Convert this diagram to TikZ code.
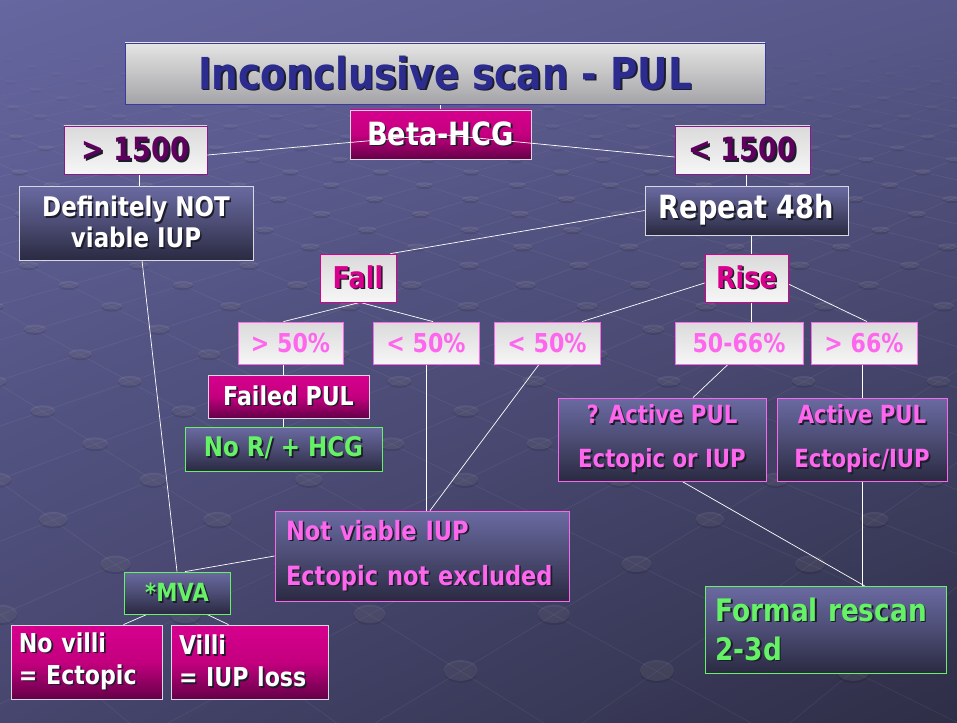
\documentclass[tikz,border=0pt]{standalone}
\usepackage{fontspec}
\setmainfont[FakeStretch=0.85]{DejaVu Sans}
\usetikzlibrary{calc,shadings}

\pgfdeclarelayer{bg}
\pgfdeclarelayer{lines}
\pgfsetlayers{bg,lines,main}

% palette
\definecolor{bgUL}{HTML}{6666A0}
\definecolor{bgUR}{HTML}{58588A}
\definecolor{bgLL}{HTML}{46466E}
\definecolor{bgLR}{HTML}{2E2E47}
\definecolor{ttlT}{HTML}{E4E4E4}
\definecolor{ttlB}{HTML}{A4A4A8}
\definecolor{ttlD}{HTML}{3A3AA0}
\definecolor{navy}{HTML}{2C2C8E}
\definecolor{lgT}{HTML}{DADADA}
\definecolor{lgB}{HTML}{F6F6F6}
\definecolor{plum}{HTML}{5E005E}
\definecolor{plumD}{HTML}{8A1A8A}
\definecolor{magT}{HTML}{D6008E}
\definecolor{magM}{HTML}{C4007F}
\definecolor{magB}{HTML}{640048}
\definecolor{magTxt}{HTML}{D8008C}
\definecolor{pink}{HTML}{FF66EE}
\definecolor{dkT}{HTML}{6A6AA2}
\definecolor{dkM}{HTML}{4C4C74}
\definecolor{dkB}{HTML}{2A2A42}
\definecolor{grn}{HTML}{66F266}
\definecolor{edge}{HTML}{D8D8E0}
\definecolor{shadowc}{HTML}{1C1C2A}

% text with a small drop shadow
\newcommand\sh[1]{\makebox[0pt][l]{\hspace{1.6pt}\raisebox{-1.6pt}{\textcolor{shadowc}{#1}}}#1}
\newcommand\fs[2]{\fontsize{#1}{#2}\selectfont}

\tikzset{
  box/.style={inner sep=0pt, line width=0.8pt, shading=axis, font=\bfseries},
  light/.style={box, top color=lgT, bottom color=lgB},
  mag/.style={box, top color=magT, bottom color=magB, middle color=magM, draw=edge, text=white},
  dark/.style={box, top color=dkT, bottom color=dkB, middle color=dkM},
  link/.style={draw=white, line width=0.7pt},
}

\begin{document}
\begin{tikzpicture}[x=1pt, y=-1pt]
\useasboundingbox (0,0) rectangle (957,722);

\begin{pgfonlayer}{bg}
\shade[upper left=bgUL, upper right=bgUR, lower left=bgLL, lower right=bgLR] (0,0) rectangle (957,722);
% faint floor grid seen in perspective, with bumps at the crossings
\begin{scope}
\clip (0,0) rectangle (957,722);
\foreach \m in {-20,...,30} {
  \foreach \n in {-20,...,30} {
    \pgfmathsetmacro\Z{0.7616+(\m+\n)*0.0531}
    \pgfmathsetmacro\X{0.0426+(\m-\n)*0.0531}
    \pgfmathtruncatemacro\ok{and(\Z>0.7,\Z<3.3)}
    \ifnum\ok=1
      \pgfmathsetmacro\sx{480+1506*\X/\Z}
      \pgfmathsetmacro\sy{-253+753/\Z}
      \pgfmathtruncatemacro\inx{and(\sx>-80,\sx<1040)}
      \ifnum\inx=1
        \pgfmathsetmacro\fade{max(0,min(1,(\sy-40)/140))}
        \pgfmathsetmacro\Zn{\Z+0.0531}
        \pgfmathsetmacro\ax{480+1506*(\X+0.0531)/\Zn}
        \pgfmathsetmacro\bx{480+1506*(\X-0.0531)/\Zn}
        \pgfmathsetmacro\ny{-253+753/\Zn}
        \pgfmathsetmacro\rx{13.8/\Z}
        \pgfmathsetmacro\ry{\rx*0.5/\Z}
        \draw[white, opacity=0.07*\fade, line width=0.6pt] (\ax,\ny) -- (\sx,\sy) -- (\bx,\ny);
        \fill[black, opacity=0.10*\fade] (\sx,\sy+1.2) ellipse [x radius=\rx pt, y radius=\ry pt];
        \fill[white, opacity=0.08*\fade] (\sx,\sy-0.8) ellipse [x radius=\rx pt, y radius=\ry pt];
      \fi
    \fi
  }
}
\end{scope}
\end{pgfonlayer}

% title and first split
\node[box, top color=ttlT, bottom color=ttlB, draw=ttlD, text=navy,
      minimum width=640pt, minimum height=61pt, font=\bfseries\fs{44}{50}] (title) at (445,73.5) {\sh{Inconclusive scan - PUL}};
\node[mag, minimum width=181pt, minimum height=49pt, font=\bfseries\fs{32}{36}] (beta) at (440.5,134.5) {\sh{Beta-HCG}};
\node[light, draw=plumD, text=plum, minimum width=143pt, minimum height=48pt, font=\bfseries\fs{32}{36}] (gt) at (135.5,150) {\sh{> 1500}};
\node[light, draw=plumD, text=plum, minimum width=135pt, minimum height=48pt, font=\bfseries\fs{32}{36}] (lt) at (742.5,150) {\sh{< 1500}};

\node[dark, draw=edge, text=white, minimum width=234pt, minimum height=74pt, align=center, font=\bfseries\fs{27}{31}] (defn) at (136,223) {\sh{Definitely NOT}\\\sh{viable IUP}};
\node[dark, draw=edge, text=white, minimum width=203pt, minimum height=49pt, font=\bfseries\fs{32}{36}] (rep) at (746.5,210.5) {\sh{Repeat 48h}};

\node[light, draw=magTxt, text=magTxt, minimum width=76pt, minimum height=48pt, font=\bfseries\fs{30}{34}] (fall) at (358,278) {\sh{Fall}};
\node[light, draw=magTxt, text=magTxt, minimum width=83pt, minimum height=48pt, font=\bfseries\fs{30}{34}] (rise) at (746.5,278) {\sh{Rise}};

% percentage bands
\tikzset{pct/.style={light, draw=pink, text=pink, minimum height=42pt, font=\bfseries\fs{26}{30}}}
\node[pct, minimum width=105pt] (p1) at (290.5,343) {> 50\%};
\node[pct, minimum width=106pt] (p2) at (426,343) {< 50\%};
\node[pct, minimum width=106pt] (p3) at (547,343) {< 50\%};
\node[pct, minimum width=128pt] (p4) at (739,343) {50-66\%};
\node[pct, minimum width=106pt] (p5) at (864,343) {> 66\%};

\node[mag, minimum width=161pt, minimum height=43pt, font=\bfseries\fs{26}{30}] (failed) at (288.5,396.5) {\sh{Failed PUL}};
\node[dark, draw=grn, text=grn, minimum width=197pt, minimum height=44pt, font=\bfseries\fs{27}{30}] (norx) at (283.5,449) {\sh{No R/ + HCG}};

\node[dark, draw=pink, text=pink, minimum width=208pt, minimum height=83pt, align=center, font=\bfseries\fs{25}{44}] (qact) at (662,439.5) {\sh{? Active PUL}\\\sh{Ectopic or IUP}};
\node[dark, draw=pink, text=pink, minimum width=170pt, minimum height=83pt, align=center, font=\bfseries\fs{25}{44}] (act) at (862,439.5) {\sh{Active PUL}\\\sh{Ectopic/IUP}};

\node[dark, draw=pink, text=pink, minimum width=294pt, minimum height=90pt, text width=272pt, align=left, font=\bfseries\fs{26.5}{45}] (notv) at (422,556) {\sh{Not viable IUP}\\\sh{Ectopic not excluded}};

\node[dark, draw=grn, text=grn, minimum width=106pt, minimum height=42pt, font=\bfseries\fs{25}{30}] (mva) at (177,593) {\sh{*MVA}};
\node[mag, minimum width=151pt, minimum height=74pt, text width=135pt, align=left, font=\bfseries\fs{26}{32}] (novilli) at (86.5,662) {\sh{No villi}\\\sh{= Ectopic}};
\node[mag, minimum width=157pt, minimum height=74pt, text width=141pt, align=left, font=\bfseries\fs{26}{32}] (villi) at (249.5,662) {\sh{Villi}\\\sh{= IUP loss}};

\node[dark, draw=grn, text=grn, minimum width=241pt, minimum height=87pt, text width=221pt, align=left, font=\bfseries\fs{31}{39}] (formal) at (826,630) {\sh{Formal rescan}\\\sh{2-3d}};

% connectors behind the boxes
\begin{pgfonlayer}{lines}
\draw[link] (beta.north |- title.south) -- (beta.north);
\draw[link] ([xshift=4pt]gt.south) -- ([xshift=4pt]gt.south |- defn.north);
\draw[link] (rep.north |- lt.south) -- (rep.north);
\draw[link] (rep.west) -- ([xshift=-6pt]fall.north east);
\draw[link] ([xshift=4.5pt]rep.south) -- ([xshift=4.5pt]rep.south |- rise.north);
\draw[link] ([xshift=2pt]fall.south) -- ([xshift=-7pt]p1.north);
\draw[link] ([xshift=2pt]fall.south) -- ([xshift=7pt]p2.north);
\draw[link] ([yshift=-5pt]rise.west) -- ([xshift=35pt]p3.north);
\draw[link] ([xshift=4.5pt]rise.south) -- ([xshift=4.5pt]rise.south |- p4.north);
\draw[link] ([yshift=-6pt]rise.east) -- ([xshift=3pt]p5.north);
\draw[link] ([xshift=-7pt]p1.south) -- ([xshift=-7pt]p1.south |- failed.north);
\draw[link] (norx.north |- failed.south) -- (norx.north);
\draw[link] (p2.south) -- (p2.south |- notv.north);
\draw[link] ([xshift=-8pt]p3.south) -- ([xshift=8pt]notv.north);
\draw[link] ([xshift=-11pt]p4.south) -- ([xshift=31pt]qact.north);
\draw[link] (act.north |- p5.south) -- (act.north);
\draw[link] ([xshift=20pt]qact.south) -- ([xshift=39pt]formal.north);
\draw[link] (act.south) -- (act.south |- formal.north);
\draw[link] ([xshift=6pt]defn.south) -- (mva.north);
\draw[link] (notv.west) -- ([xshift=8pt]mva.north);
\draw[link] ([xshift=-30pt]mva.south) -- ([xshift=37pt]novilli.north);
\draw[link] ([xshift=30pt]mva.south) -- ([xshift=-21pt]villi.north);
\end{pgfonlayer}

% the two threshold lines run over the Beta-HCG box
\draw[link] ([yshift=-5pt]gt.east) -- (beta.center);
\draw[link] ([yshift=-7pt]lt.west) -- (beta.center);
\end{tikzpicture}
\end{document}
